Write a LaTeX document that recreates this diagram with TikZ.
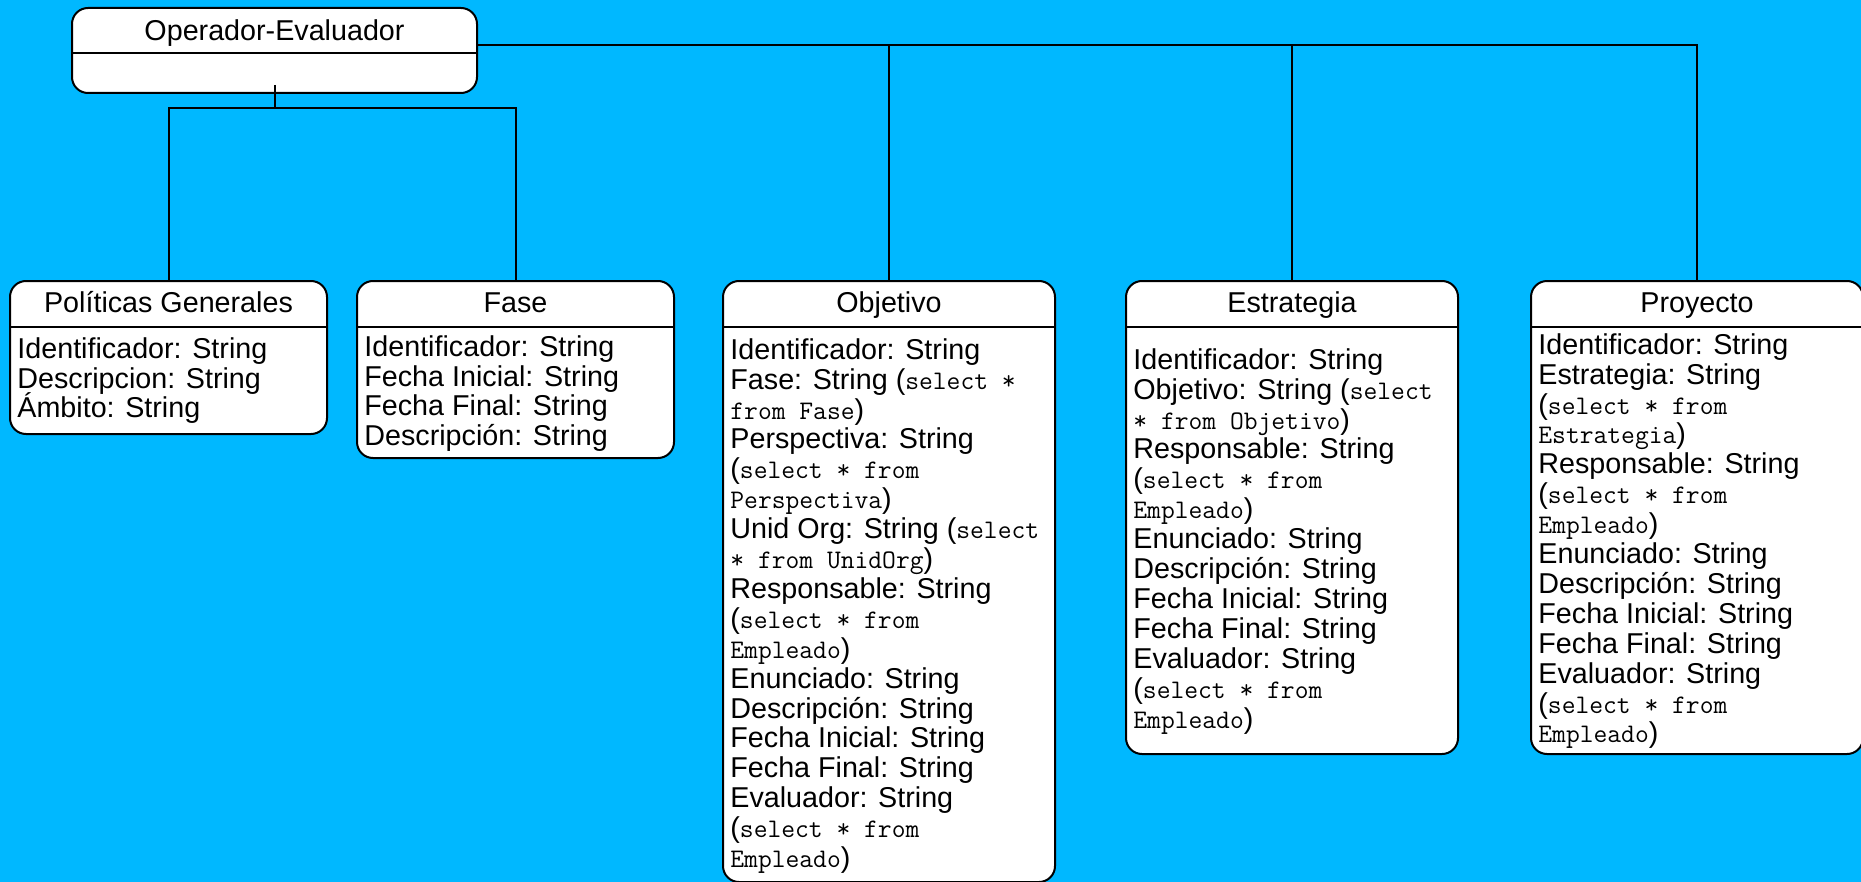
\documentclass[tikz,border=0pt]{standalone}
\usepackage{fontspec}
\setmainfont{Liberation Sans}
\usetikzlibrary{positioning,calc}
\definecolor{fondo}{RGB}{0,184,255}
\newcommand{\sql}[1]{{\ttfamily\fontsize{13.4}{14.95}\selectfont #1}}

\begin{document}
\begin{tikzpicture}[x=0.5pt, y=-0.5pt, font=\fontsize{14.35}{14.95}\selectfont]
  \tikzstyle{clase}=[draw, line width=1pt, rounded corners=8pt, fill=white, inner sep=0pt, anchor=north west]
  \tikzstyle{titulo}=[anchor=base, inner sep=0pt]
  \tikzstyle{attrs}=[align=left, anchor=north west, inner sep=0pt,
    execute at begin node={\lineskiplimit=-10pt\lineskip=0pt\rule{0pt}{12pt}}]
  \tikzstyle{link}=[line width=1pt]
  \fill[fondo] (0,0) rectangle (1861,882);
  \useasboundingbox (0,0) rectangle (1861,882);

  % boxes
  \node[clase, minimum width=202.5pt, minimum height=42.5pt] (oper) at (71,7) {};
  \node[clase, minimum width=158.5pt, minimum height=76.5pt] (pol) at (9,280) {};
  \node[clase, minimum width=158.5pt, minimum height=88.5pt] (fase) at (356,280) {};
  \node[clase, minimum width=166pt, minimum height=300.5pt] (obj) at (722,280) {};
  \node[clase, minimum width=166pt, minimum height=236.5pt] (estr) at (1125,280) {};
  \node[clase, minimum width=166pt, minimum height=236.5pt] (proy) at (1530,280) {};

  % titles and dividers
  \node[titulo] (operT) at ([yshift=-17pt]oper.north) {Operador-Evaluador};
  \draw[link] ([yshift=-23pt]oper.north west) -- ([yshift=-23pt]oper.north east);
  \foreach \c/\t in {pol/Políticas Generales, fase/Fase, obj/Objetivo, estr/Estrategia, proy/Proyecto} {
    \node[titulo] (\c T) at ([yshift=-16pt]\c.north) {\t};
    \draw[link] ([yshift=-23.5pt]\c.north west) -- ([yshift=-23.5pt]\c.north east);
  }

  % attributes
  \node[attrs] (polA) at ([xshift=4pt, yshift=-28.5pt]pol.north west)
    {Identificador: String\\Descripcion: String\\Ámbito: String};
  \node[attrs] (faseA) at ([xshift=4pt, yshift=-27.5pt]fase.north west)
    {Identificador: String\\Fecha Inicial: String\\Fecha Final: String\\Descripción: String};
  \node[attrs] (objA) at ([xshift=4pt, yshift=-29pt]obj.north west)
    {Identificador: String\\
     Fase: String (\sql{select *}\\
     \sql{from Fase})\\
     Perspectiva: String\\
     (\sql{select * from}\\
     \sql{Perspectiva})\\
     Unid Org: String (\sql{select}\\
     \sql{* from UnidOrg})\\
     Responsable: String\\
     (\sql{select * from}\\
     \sql{Empleado})\\
     Enunciado: String\\
     Descripción: String\\
     Fecha Inicial: String\\
     Fecha Final: String\\
     Evaluador: String\\
     (\sql{select * from}\\
     \sql{Empleado})};
  \node[attrs] (estrA) at ([xshift=4pt, yshift=-34pt]estr.north west)
    {Identificador: String\\
     Objetivo: String (\sql{select}\\
     \sql{* from Objetivo})\\
     Responsable: String\\
     (\sql{select * from}\\
     \sql{Empleado})\\
     Enunciado: String\\
     Descripción: String\\
     Fecha Inicial: String\\
     Fecha Final: String\\
     Evaluador: String\\
     (\sql{select * from}\\
     \sql{Empleado})};
  \node[attrs] (proyA) at ([xshift=4pt, yshift=-26.5pt]proy.north west)
    {Identificador: String\\
     Estrategia: String\\
     (\sql{select * from}\\
     \sql{Estrategia})\\
     Responsable: String\\
     (\sql{select * from}\\
     \sql{Empleado})\\
     Enunciado: String\\
     Descripción: String\\
     Fecha Inicial: String\\
     Fecha Final: String\\
     Evaluador: String\\
     (\sql{select * from}\\
     \sql{Empleado})};

  % connectors
  \coordinate (bus) at (0,45);
  \coordinate (rama) at ($(oper.south)+(0,14)$);
  \draw[link] (oper.east |- bus) -| (proy.north);
  \draw[link] (obj.north) -- (obj.north |- bus);
  \draw[link] (estr.north) -- (estr.north |- bus);
  \draw[link] ([yshift=4.5pt]oper.south) -- (rama);
  \draw[link] (pol.north) |- (rama) -| (fase.north);
\end{tikzpicture}
\end{document}
